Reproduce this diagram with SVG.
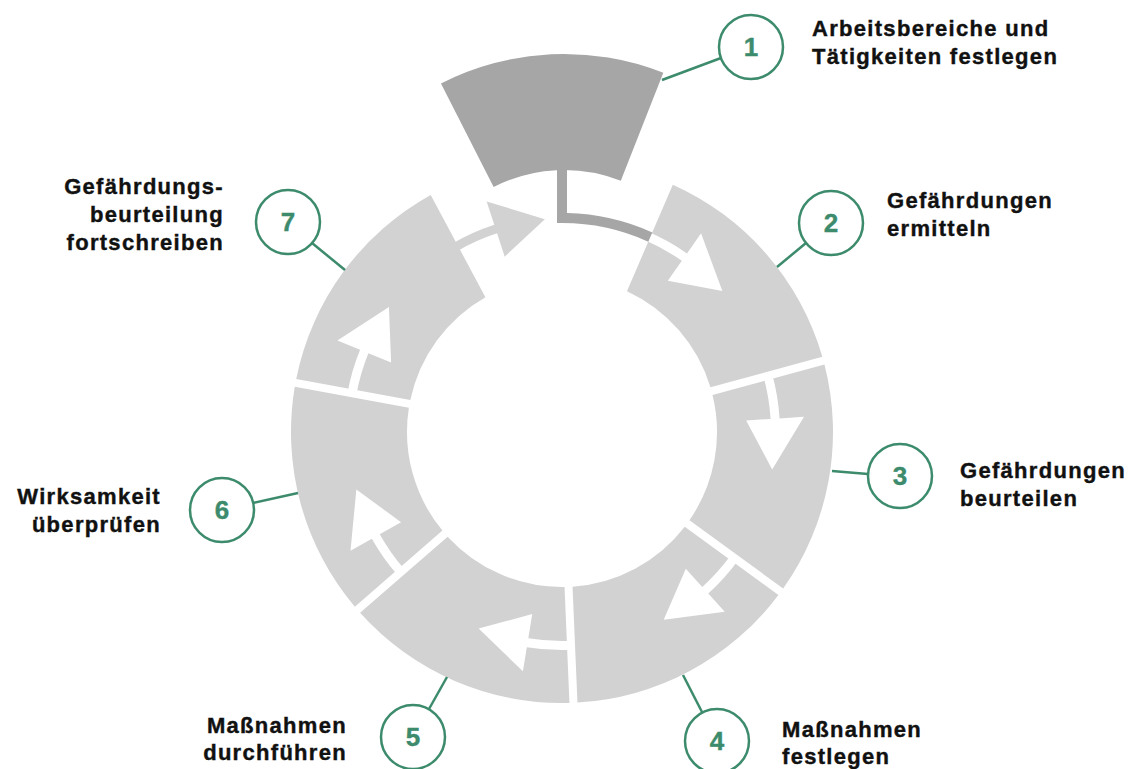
<svg xmlns="http://www.w3.org/2000/svg" xmlns:xlink="http://www.w3.org/1999/xlink" width="1138" height="769" viewBox="0 0 1138 769">
<style>
.seg{fill:#d1d2d1}
.dark{fill:#a6a6a6}
.cut{fill:#ffffff}
.lead{stroke:#3d8b6d;stroke-width:2.5;fill:none}
.ring{stroke:#3d8b6d;stroke-width:2.5;fill:#ffffff}
.num{font-family:"Liberation Sans",Arial,sans-serif;font-weight:bold;font-size:26px;fill:#3d8b6d;text-anchor:middle;stroke:#3d8b6d;stroke-width:0.4}
.lbl{font-family:"Liberation Sans",Arial,sans-serif;font-weight:bold;font-size:22px;letter-spacing:1.3px;fill:#111111;stroke:#111111;stroke-width:0.4}
.end{text-anchor:end}
</style>
<defs>
<path id="segT" d="M4,-270.97 A271,271 0 0 1 209.36,-172.08 L118.66,-99.74 A155,155 0 0 0 4,-154.95 Z"/>
<path id="arrT" d="M0,-218 A218,218 0 0 1 44.21,-213.47 L49.18,-237.46 L91.58,-192.86 L37.41,-180.67 L42.38,-204.66 A209,209 0 0 0 0,-209 Z"/>
</defs>
<rect width="1138" height="769" fill="#ffffff"/>

<g id="node1">
<path class="dark" d="M440.97,83.54 A271,271 0 0 1 663.32,72.86 L620.81,180.78 A155,155 0 0 0 493.63,186.89 Z"/>
<circle class="ring" cx="751" cy="47" r="32"/>
<text class="num" x="751" y="56">1</text>
<text class="lbl" x="812" y="36">Arbeitsbereiche und</text>
<text class="lbl" x="812" y="64">Tätigkeiten festlegen</text>
</g>

<g id="node2">
<use xlink:href="#segT" href="#segT" class="seg" transform="translate(562 432) rotate(23.29)"/>
<use xlink:href="#arrT" href="#arrT" class="cut" transform="translate(562 432) rotate(23.29)"/>
<circle class="ring" cx="831" cy="223" r="32"/>
<text class="num" x="831" y="232">2</text>
<text class="lbl" x="887" y="208">Gefährdungen</text>
<text class="lbl" x="887" y="236">ermitteln</text>
</g>

<g id="node3">
<use xlink:href="#segT" href="#segT" class="seg" transform="translate(562 432) rotate(74.72)"/>
<use xlink:href="#arrT" href="#arrT" class="cut" transform="translate(562 432) rotate(74.72)"/>
<circle class="ring" cx="900" cy="476" r="32"/>
<text class="num" x="900" y="485">3</text>
<text class="lbl" x="960" y="478">Gefährdungen</text>
<text class="lbl" x="960" y="506">beurteilen</text>
</g>

<g id="node4">
<use xlink:href="#segT" href="#segT" class="seg" transform="translate(562 432) rotate(126.15)"/>
<use xlink:href="#arrT" href="#arrT" class="cut" transform="translate(562 432) rotate(126.15)"/>
<circle class="ring" cx="717" cy="741" r="32"/>
<text class="num" x="717" y="750">4</text>
<text class="lbl" x="782" y="737">Maßnahmen</text>
<text class="lbl" x="782" y="764">festlegen</text>
</g>

<g id="node5">
<use xlink:href="#segT" href="#segT" class="seg" transform="translate(562 432) rotate(177.58)"/>
<use xlink:href="#arrT" href="#arrT" class="cut" transform="translate(562 432) rotate(177.58)"/>
<circle class="ring" cx="413" cy="737" r="32"/>
<text class="num" x="413" y="746">5</text>
<text class="lbl end" x="347" y="733">Maßnahmen</text>
<text class="lbl end" x="347" y="760">durchführen</text>
</g>

<g id="node6">
<use xlink:href="#segT" href="#segT" class="seg" transform="translate(562 432) rotate(229.01)"/>
<use xlink:href="#arrT" href="#arrT" class="cut" transform="translate(562 432) rotate(229.01)"/>
<circle class="ring" cx="222" cy="510" r="32"/>
<text class="num" x="222" y="519">6</text>
<text class="lbl end" x="161" y="504">Wirksamkeit</text>
<text class="lbl end" x="161" y="532">überprüfen</text>
</g>

<g id="node7">
<use xlink:href="#segT" href="#segT" class="seg" transform="translate(562 432) rotate(280.44)"/>
<use xlink:href="#arrT" href="#arrT" class="cut" transform="translate(562 432) rotate(280.44)"/>
<circle class="ring" cx="288" cy="222" r="32"/>
<text class="num" x="288" y="231">7</text>
<text class="lbl end" x="224" y="194">Gefährdungs-</text>
<text class="lbl end" x="224" y="222">beurteilung</text>
<text class="lbl end" x="224" y="250">fortschreiben</text>
</g>

<g id="connectors">
<path class="dark" d="M557,165 L557,223.06 A209,209 0 0 1 648.30,241.65 L652.25,232.46 A219,219 0 0 0 567,213.06 L567,165 Z"/>
<path class="seg" d="M453,243.21 A218,218 0 0 1 494.27,224.79 L486.66,201.5 L544.88,219.19 L504.68,256.63 L497.07,233.34 A209,209 0 0 0 457.5,251.0 Z"/>
<line class="lead" x1="662" y1="80" x2="721" y2="58"/>
<line class="lead" x1="777" y1="267" x2="806" y2="243"/>
<line class="lead" x1="832" y1="471" x2="868" y2="474"/>
<line class="lead" x1="683" y1="675" x2="702" y2="712"/>
<line class="lead" x1="447" y1="677" x2="429" y2="709"/>
<line class="lead" x1="298" y1="493" x2="253" y2="503"/>
<line class="lead" x1="345" y1="270" x2="312" y2="243"/>
</g>
</svg>
